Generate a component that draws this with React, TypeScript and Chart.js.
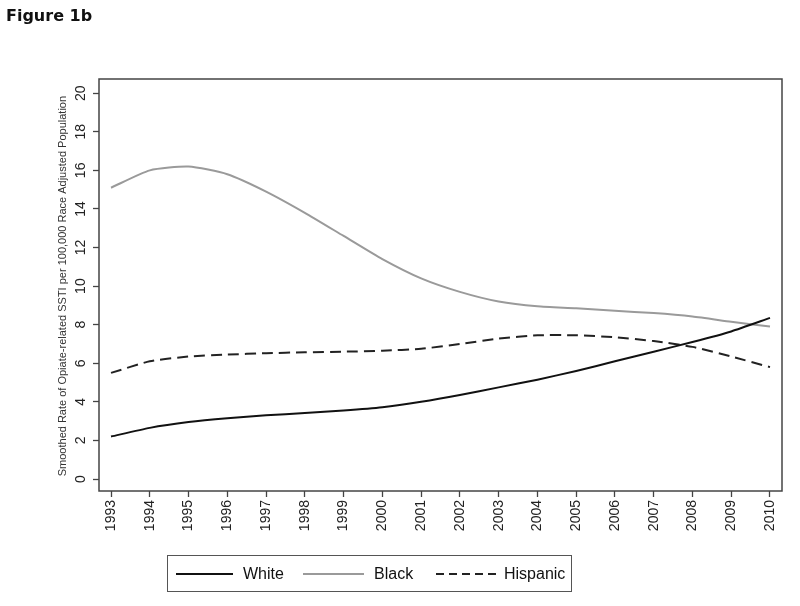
import React, { useEffect, useRef } from "react";
import { Chart, registerables } from "chart.js";

Chart.register(...registerables);

const years = [1993, 1994, 1995, 1996, 1997, 1998, 1999, 2000, 2001, 2002, 2003, 2004, 2005, 2006, 2007, 2008, 2009, 2010];
const white = [2.2, 2.65, 2.95, 3.15, 3.3, 3.42, 3.55, 3.72, 4.0, 4.35, 4.75, 5.15, 5.6, 6.1, 6.6, 7.1, 7.65, 8.35];
const black = [15.1, 16.0, 16.2, 15.8, 14.9, 13.8, 12.6, 11.4, 10.4, 9.7, 9.2, 8.95, 8.85, 8.72, 8.6, 8.42, 8.15, 7.9];
const hispanic = [5.5, 6.1, 6.35, 6.45, 6.52, 6.57, 6.6, 6.65, 6.75, 7.0, 7.28, 7.45, 7.45, 7.35, 7.15, 6.85, 6.35, 5.8];
const yTicks = [0, 2, 4, 6, 8, 10, 12, 14, 16, 18, 20];
const yTitle = "Smoothed Rate of Opiate-related SSTI per 100,000 Race Adjusted Population";
const figTitle = "Figure 1b";
const legendLabels = ["White", "Black", "Hispanic"];

const FONT = "'Liberation Sans', Arial, sans-serif";

const framePlugin = {
  id: "frameAndLabels",
  afterDraw(chart: any) {
    const { ctx, chartArea } = chart;
    const y = chart.scales.y;
    ctx.save();
    ctx.strokeStyle = "#444";
    ctx.lineWidth = 1.5;
    ctx.strokeRect(chartArea.left, chartArea.top, chartArea.right - chartArea.left, chartArea.bottom - chartArea.top);
    ctx.fillStyle = "#222";
    ctx.font = `14px ${FONT}`;
    ctx.textAlign = "center";
    ctx.textBaseline = "middle";
    yTicks.forEach((v) => {
      const py = y.getPixelForValue(v);
      ctx.save();
      ctx.translate(81, py);
      ctx.rotate(-Math.PI / 2);
      ctx.fillText(String(v), 0, 0);
      ctx.restore();
    });
    ctx.font = `11px ${FONT}`;
    ctx.fillStyle = "#333";
    ctx.save();
    ctx.translate(63, (y.getPixelForValue(0) + y.getPixelForValue(20)) / 2);
    ctx.rotate(-Math.PI / 2);
    ctx.fillText(yTitle, 0, 0);
    ctx.restore();
    ctx.restore();
  },
};

export default function App() {
  const ref = useRef<HTMLCanvasElement>(null);
  useEffect(() => {
    if (!ref.current) return;
    const chart = new Chart(ref.current, {
      type: "line",
      data: {
        datasets: [
          {
            label: legendLabels[0],
            data: years.map((x, i) => ({ x, y: white[i] })),
            borderColor: "#111",
            borderWidth: 2,
            pointRadius: 0,
            tension: 0.2,
          },
          {
            label: legendLabels[1],
            data: years.map((x, i) => ({ x, y: black[i] })),
            borderColor: "#9a9a9a",
            borderWidth: 2,
            pointRadius: 0,
            tension: 0.2,
          },
          {
            label: legendLabels[2],
            data: years.map((x, i) => ({ x, y: hispanic[i] })),
            borderColor: "#222",
            borderWidth: 2,
            borderDash: [11, 6],
            pointRadius: 0,
            tension: 0.2,
          },
        ],
      },
      options: {
        animation: false,
        responsive: false,
        devicePixelRatio: 1,
        layout: { padding: { left: 0, right: 18, top: 79, bottom: 0 } },
        plugins: { legend: { display: false }, tooltip: { enabled: false } },
        scales: {
          x: {
            type: "linear",
            min: 1992.69,
            max: 2010.31,
            afterBuildTicks: (s: any) => {
              s.ticks = years.map((v) => ({ value: v }));
            },
            afterFit: (s: any) => {
              s.height = 115;
            },
            border: { display: false },
            grid: { drawOnChartArea: false, drawTicks: true, tickLength: 6, color: "#444", tickWidth: 1.3 },
            ticks: {
              minRotation: 90,
              maxRotation: 90,
              padding: 3,
              color: "#222",
              font: { family: FONT, size: 14 },
              callback: (v: any) => String(v),
            },
          },
          y: {
            type: "linear",
            min: -0.622,
            max: 20.736,
            afterBuildTicks: (s: any) => {
              s.ticks = yTicks.map((v) => ({ value: v }));
            },
            afterFit: (s: any) => {
              s.width = 99;
            },
            border: { display: false },
            grid: { drawOnChartArea: false, drawTicks: true, tickLength: 6, color: "#444", tickWidth: 1.3 },
            ticks: { display: false },
          },
        },
      },
      plugins: [framePlugin],
    });
    return () => chart.destroy();
  }, []);

  const sample = (left: number, width: number, color: string, dash?: string) => (
    <svg style={{ position: "absolute", left, top: 16 }} width={width} height={4}>
      <line x1={0} y1={2} x2={width} y2={2} stroke={color} strokeWidth={2} strokeDasharray={dash} />
    </svg>
  );
  const text = (left: number): React.CSSProperties => ({
    position: "absolute",
    left,
    top: 8,
    fontFamily: FONT,
    fontSize: 16,
    color: "#111",
    lineHeight: "20px",
  });

  return (
    <div style={{ position: "fixed", left: 0, top: 0, width: 800, height: 606, background: "#fff" }}>
      <canvas ref={ref} width={800} height={606} style={{ position: "absolute", left: 0, top: 0 }} />
      <div
        style={{
          position: "absolute",
          left: 6,
          top: 6,
          fontFamily: "'DejaVu Sans', sans-serif",
          fontWeight: "bold",
          fontSize: 16,
          color: "#111",
        }}
      >
        {figTitle}
      </div>
      <div
        style={{
          position: "absolute",
          left: 167,
          top: 555,
          width: 403,
          height: 35,
          border: "1.5px solid #555",
          boxSizing: "content-box",
        }}
      >
        {sample(8, 57, "#111")}
        <span style={text(75)}>{legendLabels[0]}</span>
        {sample(135, 61, "#9a9a9a")}
        <span style={text(206)}>{legendLabels[1]}</span>
        {sample(268, 60, "#222", "8 5")}
        <span style={text(336)}>{legendLabels[2]}</span>
      </div>
    </div>
  );
}
